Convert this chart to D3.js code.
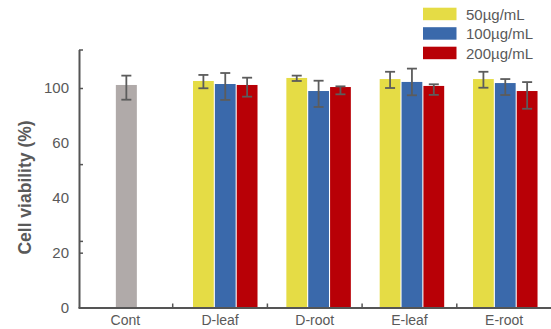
<!DOCTYPE html>
<html>
<head>
<meta charset="utf-8">
<script src="https://cdn.jsdelivr.net/npm/d3@7"></script>
<style>
  html, body { margin: 0; padding: 0; background: #fff; }
  svg { display: block; font-family: "Liberation Sans", Arial, sans-serif; }
</style>
</head>
<body>
<svg id="chart" width="551" height="329"></svg>
<script>
// Cell viability per extract and concentration (mean with lower/upper error)
const groups = ["Cont", "D-leaf", "D-root", "E-leaf", "E-root"];
const treated = ["D-leaf", "D-root", "E-leaf", "E-root"];
const series = ["50µg/mL", "100µg/mL", "200µg/mL"];

const contMean = 102.2;
const contErrUp = 6.8;
const contErrDown = 10.7;

const mean50      = [105.1, 107.3, 106.5, 106.5];
const errUp50     = [4.4, 1.7, 5.3, 5.3];
const errDown50   = [5.3, 2.2, 6.5, 6.3];
const mean100     = [102.9, 97.8, 104.4, 103.6];
const errUp100    = [8.0, 7.5, 9.7, 2.9];
const errDown100  = [11.6, 11.6, 9.7, 8.7];
const mean200     = [102.2, 100.7, 101.5, 97.8];
const errUp200    = [5.3, 0.5, 1.2, 6.5];
const errDown200  = [8.5, 5.3, 6.5, 12.9];

// broken value axis: labels and the marks on the axis line
const yLabels = [0, 20, 40, 60, 100];
const yTickMarks = [20, 24.3, 52.3, 100, 128];

const colors = ["#e5dc45", "#3a69ab", "#b80006"];
const contColor = "#b0aaa9";
const inkColor = "#595959";
const axisColor = "#555555";
const errColor = "#5c5c5c";

const svg = d3.select("#chart");

// category axis
const x = d3.scaleBand().domain(groups).range([78, 551.5]);
// placement of the treated bar clusters
const xBars = d3.scaleBand().domain(groups).range([85, 551.7]);
// piecewise scale: 60 to 100 compressed
const y = d3.scaleLinear().domain([0, 60, 128]).range([307.5, 143, 49.5]);

const inner = d3.scaleBand().domain(series).range([-32, 32.5]).paddingInner(0.05);

const means = [mean50, mean100, mean200];
const ups = [errUp50, errUp100, errUp200];
const downs = [errDown50, errDown100, errDown200];

const rows = [];
treated.forEach((g, i) => {
  series.forEach((s, k) => {
    rows.push({ group: g, s: s, mean: means[k][i], up: ups[k][i], down: downs[k][i], color: colors[k] });
  });
});
const barX = d => xBars(d.group) + xBars.bandwidth() / 2 + inner(d.s);

// control bar
const contW = 21;
const contCx = x("Cont") + x.bandwidth() / 2 + 1;
svg.append("rect")
  .attr("x", contCx - contW / 2)
  .attr("y", y(contMean))
  .attr("width", contW)
  .attr("height", y(0) - y(contMean))
  .attr("fill", contColor);

// treated bars
svg.append("g").selectAll("rect").data(rows).join("rect")
  .attr("x", barX)
  .attr("y", d => y(d.mean))
  .attr("width", inner.bandwidth())
  .attr("height", d => y(0) - y(d.mean))
  .attr("fill", d => d.color);

// error bars
const errs = rows.map(d => ({ cx: barX(d) + inner.bandwidth() / 2, mean: d.mean, up: d.up, down: d.down }));
errs.unshift({ cx: contCx, mean: contMean, up: contErrUp, down: contErrDown });

const eg = svg.append("g").attr("stroke", errColor).attr("stroke-width", 1.8);
errs.forEach(e => {
  const top = y(e.mean + e.up), bot = y(e.mean - e.down);
  eg.append("line").attr("x1", e.cx).attr("x2", e.cx).attr("y1", top).attr("y2", bot);
  eg.append("line").attr("x1", e.cx - 5).attr("x2", e.cx + 5).attr("y1", top).attr("y2", top);
  eg.append("line").attr("x1", e.cx - 5).attr("x2", e.cx + 5).attr("y1", bot).attr("y2", bot);
});

// y axis: line with inward ticks
const yAxisG = svg.append("g").attr("transform", "translate(79,0)")
  .call(d3.axisLeft(y).tickValues(yTickMarks).tickSize(-4).tickSizeOuter(0).tickFormat(""));
yAxisG.select(".domain").attr("stroke", axisColor).attr("stroke-width", 2);
yAxisG.selectAll(".tick line").attr("stroke", axisColor).attr("stroke-width", 1.5);

// y labels
const yLabG = svg.append("g").attr("transform", "translate(79,0)")
  .call(d3.axisLeft(y).tickValues(yLabels).tickSize(0).tickPadding(10).tickFormat(d3.format("d")));
yLabG.select(".domain").remove();
yLabG.selectAll("text").attr("fill", inkColor).style("font-size", "15px")
  .style("font-family", "'Liberation Sans', Arial, sans-serif");

// x axis
const xAxisG = svg.append("g").attr("transform", `translate(0,${y(0)})`)
  .call(d3.axisBottom(x).tickSize(0).tickPadding(8));
xAxisG.select(".domain").attr("stroke", axisColor).attr("stroke-width", 2);
xAxisG.selectAll("text").attr("fill", inkColor).style("font-size", "14px")
  .style("font-family", "'Liberation Sans', Arial, sans-serif")
  .attr("dy", "0.71em");

// group separators on the x axis
svg.append("g").selectAll("line").data(groups.slice(1)).join("line")
  .attr("x1", d => x(d)).attr("x2", d => x(d))
  .attr("y1", y(0)).attr("y2", y(0) - 4)
  .attr("stroke", axisColor).attr("stroke-width", 1.5);

// y title
svg.append("text")
  .attr("transform", "translate(25,187.5) rotate(-90)")
  .attr("text-anchor", "middle")
  .attr("dominant-baseline", "central")
  .attr("fill", inkColor)
  .style("font-size", "17.5px")
  .style("font-weight", "bold")
  .text("Cell viability (%)");

// legend
const lg = svg.append("g").selectAll("g").data(series).join("g")
  .attr("transform", (d, i) => `translate(423,${7.7 + i * 19.5})`);
lg.append("rect").attr("width", 33.5).attr("height", 12.5).attr("fill", (d, i) => colors[i]);
lg.append("text").attr("x", 43).attr("y", 6.5)
  .attr("dominant-baseline", "central")
  .attr("fill", inkColor)
  .style("font-size", "15px")
  .text(d => d);
</script>
</body>
</html>
